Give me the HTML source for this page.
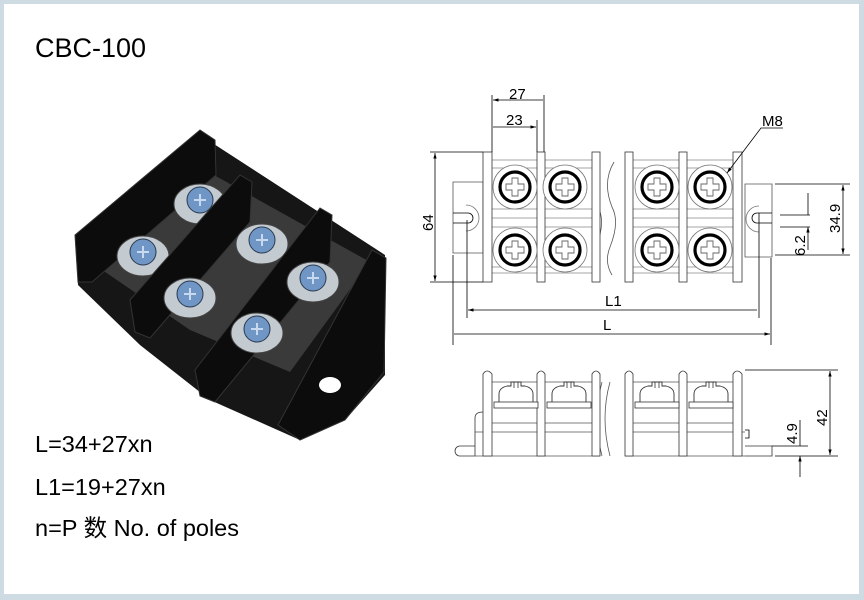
<!DOCTYPE html>
<html><head><meta charset="utf-8"><style>
html,body{margin:0;padding:0;background:#fff}
#f{position:absolute;left:0;top:0;width:864px;height:600px;box-sizing:border-box;border-style:solid;border-color:#cfdbe2;border-width:4px 5px 6px 4px;background:#fff}
svg{position:absolute;left:0;top:0}
text{font-family:"Liberation Sans","Noto Sans CJK SC",sans-serif;fill:#000}
</style></head><body>
<div id="f"></div>
<svg width="864" height="600" viewBox="0 0 864 600">
<defs>
<marker id="a" viewBox="0 0 10 10" refX="10" refY="5" markerWidth="7" markerHeight="7" orient="auto-start-reverse"><path d="M0,2 L10,5 L0,8z" fill="#000"/></marker>
<g id="sc"><circle r="22" fill="#fff" stroke="#777" stroke-width="0.8"/><circle r="15" fill="none" stroke="#000" stroke-width="3.2"/><path d="M-3,-9h6v6h6v6h-6v6h-6v-6h-6v-6h6z" fill="none" stroke="#666" stroke-width="0.9"/></g>
<g id="sv"><path d="M-17,16 v-8 q0,-6 8,-8 h4 v-4 h10 v4 h4 q8,2 8,8 v8" fill="#fff" stroke="#333" stroke-width="0.9"/><path d="M-2,-4 v6 M2,-4 v6" stroke="#333" stroke-width="0.8"/><rect x="-22" y="16" width="44" height="6" fill="#fff" stroke="#333" stroke-width="0.8"/></g>
<g id="ps"><ellipse rx="26" ry="20" fill="#c3cad0" stroke="#444"/><circle cy="-4" r="13" fill="#7096c6" stroke="#2a3a50"/><path d="M-6,-4h12M0,-10v12" stroke="#c8d8ee" stroke-width="2"/></g>
</defs>
<text x="35" y="57" font-size="27">CBC-100</text>
<text x="35" y="452" font-size="23.5">L=34+27xn</text>
<text x="35" y="495" font-size="23.5">L1=19+27xn</text>
<text x="35" y="536" font-size="23.5">n=P 数 No. of poles</text>

<g>
<polygon points="75,240 200,135 385,255 385,375 345,420 300,440 210,400 140,345 78,285" fill="#161616"/>
<polygon points="95,265 205,170 370,262 290,372 190,330" fill="#3a3a3a"/>
<polygon points="75,235 200,130 215,140 216,175 92,282 78,282" fill="#0c0c0c" stroke="#333"/>
<use href="#ps" x="200" y="204"/><use href="#ps" x="143" y="256"/>
<polygon points="130,300 240,175 252,182 250,222 150,338 135,332" fill="#0c0c0c" stroke="#333"/>
<use href="#ps" x="262" y="244"/><use href="#ps" x="190" y="298"/>
<polygon points="195,370 320,208 332,215 330,262 215,402 200,396" fill="#0c0c0c" stroke="#333"/>
<use href="#ps" x="313" y="282"/><use href="#ps" x="257" y="333"/>
<polygon points="278,425 372,250 386,258 384,372 345,420 300,440" fill="#0c0c0c" stroke="#333"/>
<ellipse cx="330" cy="385" rx="11" ry="8" fill="#fff"/>
</g>

<g fill="none" stroke="#000" stroke-width="0.8">
<path d="M453,182h30v71h-30z M745,184h27v73h-27z" stroke="#555"/>
<path d="M453,213h15a5,5 0 0 1 0,10h-15 M772,213h-15a5,5 0 0 0 0,10h15" />
<path d="M466,205a13,13 0 0 1 0,26 M759,206a13,13 0 0 0 0,26" stroke="#777"/>
<path d="M483,160h117 M483,168h117 M483,209h117 M483,218h117 M483,227h117 M483,267h117 M483,273h117 M625,160h117 M625,168h117 M625,209h117 M625,218h117 M625,227h117 M625,267h117 M625,273h117" stroke="#888"/>
<path d="M600,162q-12,20 -2,45q8,15 -2,40q-6,15 2,28 M614,162q-12,20 -2,45q8,15 -2,40q-6,15 2,28" stroke="#555"/>
<g fill="#fff" stroke="#333"><rect x="483" y="152" width="9" height="130"/><rect x="537" y="152" width="8" height="130"/><rect x="592" y="152" width="8" height="130"/><rect x="625" y="152" width="8" height="130"/><rect x="679" y="152" width="8" height="130"/><rect x="733" y="152" width="9" height="130"/></g>
<use href="#sc" x="515" y="187"/><use href="#sc" x="565" y="187"/><use href="#sc" x="657" y="187"/><use href="#sc" x="710" y="187"/>
<use href="#sc" x="515" y="250"/><use href="#sc" x="565" y="250"/><use href="#sc" x="657" y="250"/><use href="#sc" x="710" y="250"/>
<path d="M492,95v57 M544,95v57 M537,120v32"/>
<path d="M493,100h50 M493,127h43" marker-start="url(#a)" marker-end="url(#a)"/>
<path d="M430,152h53 M430,282h53"/>
<path d="M435,153v128" marker-start="url(#a)" marker-end="url(#a)"/>
<path d="M467,220v98 M759,213v105 M453,255v90 M771,258v87"/>
<path d="M468,310h289 M454,334h316" marker-start="url(#a)" marker-end="url(#a)"/>
<path d="M775,184h75 M775,255h75 M780,215h30 M780,227h30"/>
<path d="M843,185v69" marker-start="url(#a)" marker-end="url(#a)"/>
<path d="M808,193v22 M808,250v-23" marker-end="url(#a)"/>
<path d="M783,128h-22l-34,45" marker-end="url(#a)"/>
<path d="M475,418v38 M475,418q0,-6 8,-6 M460,446h15v10h-15a5,5 0 0 1 0,-10z M745,446h27v10h-27" stroke="#333"/>
<path d="M475,456h125 M625,456h120 M483,382h117 M625,382h117 M483,423h117 M625,423h117 M475,432h125 M625,432h120" stroke="#555"/>
<path d="M745,430h4v8h-4"/>
<path d="M602,382q-10,36 0,74 M610,382q-10,36 0,74" stroke="#555"/>
<g fill="#fff" stroke="#333"><path d="M483,456v-82q4,-6 9,0v82z M537,456v-82q4,-6 8,0v82z M592,456v-82q4,-6 8,0v82z M625,456v-82q4,-6 8,0v82z M679,456v-82q4,-6 8,0v82z M733,456v-82q4,-6 9,0v82z"/></g>
<use href="#sv" x="516" y="386"/><use href="#sv" x="569" y="386"/><use href="#sv" x="657" y="386"/><use href="#sv" x="711" y="386"/>
<path d="M745,370h93 M775,456h63 M772,446h36"/>
<path d="M830,371v84" marker-start="url(#a)" marker-end="url(#a)"/>
<path d="M800,420v26 M800,477v-21" marker-end="url(#a)"/>
</g>
<text x="509" y="99" font-size="15">27</text>
<text x="506" y="125" font-size="15">23</text>
<text x="762" y="126" font-size="15">M8</text>
<text x="605" y="306" font-size="15">L1</text>
<text x="603" y="330" font-size="15">L</text>
<text font-size="15" transform="translate(433,231) rotate(-90)">64</text>
<text font-size="15" transform="translate(840,233) rotate(-90)">34.9</text>
<text font-size="15" transform="translate(805,256) rotate(-90)">6.2</text>
<text font-size="15" transform="translate(827,426) rotate(-90)">42</text>
<text font-size="15" transform="translate(797,444) rotate(-90)">4.9</text>
</svg>
</body></html>
